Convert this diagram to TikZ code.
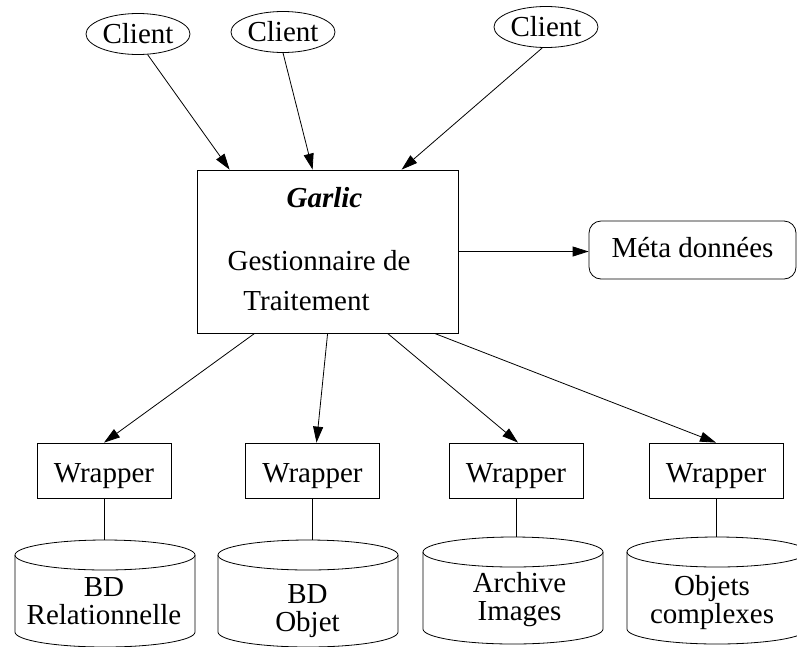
\documentclass[tikz,border=0pt]{standalone}
\usepackage{fontspec}
\setmainfont{Liberation Serif}
\usetikzlibrary{calc,shapes.geometric,arrows.meta}

\begin{document}
\begin{tikzpicture}[x=1pt,y=-1pt, line width=0.8pt,
    every node/.style={font=\fontsize{29}{28}\selectfont, inner sep=0pt},
    client/.style={ellipse, draw, minimum width=104pt, minimum height=41pt,
      text height=18pt, text depth=0pt},
    proc/.style={rectangle, draw, minimum width=261pt, minimum height=163pt},
    meta/.style={rectangle, draw, rounded corners=12pt, minimum width=207pt,
      minimum height=58pt, text height=14pt, text depth=0pt},
    wrap/.style={rectangle, draw, minimum width=134pt, minimum height=55pt,
      text height=23pt, text depth=0pt},
    db/.pic={
      \draw (0,15) ellipse [x radius=90, y radius=15];
      \draw (-90,15) -- (-90,92) arc[start angle=180, end angle=0,
        x radius=90, y radius=15] -- (90,15);
      \coordinate (-top) at (0,0);
    },
    dbtext/.style={align=center, anchor=base},
    >={Triangle[length=16pt,width=10pt]}]
  \useasboundingbox (0,0) rectangle (797,646);
  \node[client] (C1) at (138,34) {Client};
  \node[client] (C2) at (283,32) {Client};
  \node[client] (C3) at (546,27) {Client};
  \node[proc] (G) at (327.5,251.5) {};
  \node[anchor=base, font=\fontsize{29}{28}\selectfont\bfseries\itshape] (Gname) at (324.5,207) {Garlic};
  \node[anchor=base] (Gl1) at (319,270) {Gestionnaire de};
  \node[anchor=base] (Gl2) at (306.5,310) {Traitement};
  \node[meta] (M) at (692.5,250) {Méta données};
  \node[wrap] (W1) at (104,470.5) {Wrapper};
  \node[wrap] (W2) at (312.5,470.5) {Wrapper};
  \node[wrap] (W3) at (516,470.5) {Wrapper};
  \node[wrap] (W4) at (716,470.5) {Wrapper};
  \pic (D1) at (105,540) {db};
  \pic (D2) at (308,540) {db};
  \pic (D3) at (513,537) {db};
  \pic (D4) at (717,537) {db};
  \node[dbtext] (T1) at (104,624) {BD\\Relationnelle};
  \node[dbtext] (T2) at (307.5,631) {BD\\Objet};
  \node[dbtext] (T3) at (519.5,620) {Archive\\Images};
  \node[dbtext] (T4) at (712,623) {Objets\\complexes};
  \draw[->] (C1.-65) -- ([xshift=33pt]G.north west);
  \draw[->] (C2.south) -- ([xshift=116pt]G.north west);
  \draw[->] (C3.-100) -- ([xshift=205pt]G.north west);
  \draw[->] (G.east) -- (G.east -| M.west);
  \draw[->] ([xshift=58pt]G.south west) -- (W1.north);
  \draw[->] ([xshift=131pt]G.south west) -- ([xshift=4pt]W2.north);
  \draw[->] ([xshift=191pt]G.south west) -- ([xshift=2pt]W3.north);
  \draw[->] ([xshift=238pt]G.south west) -- (W4.north);
  \draw (W1.south) -- (W1.south |- D1-top);
  \draw (W2.south) -- (W2.south |- D2-top);
  \draw (W3.south) -- (W3.south |- D3-top);
  \draw (W4.south) -- (W4.south |- D4-top);
\end{tikzpicture}
\end{document}
